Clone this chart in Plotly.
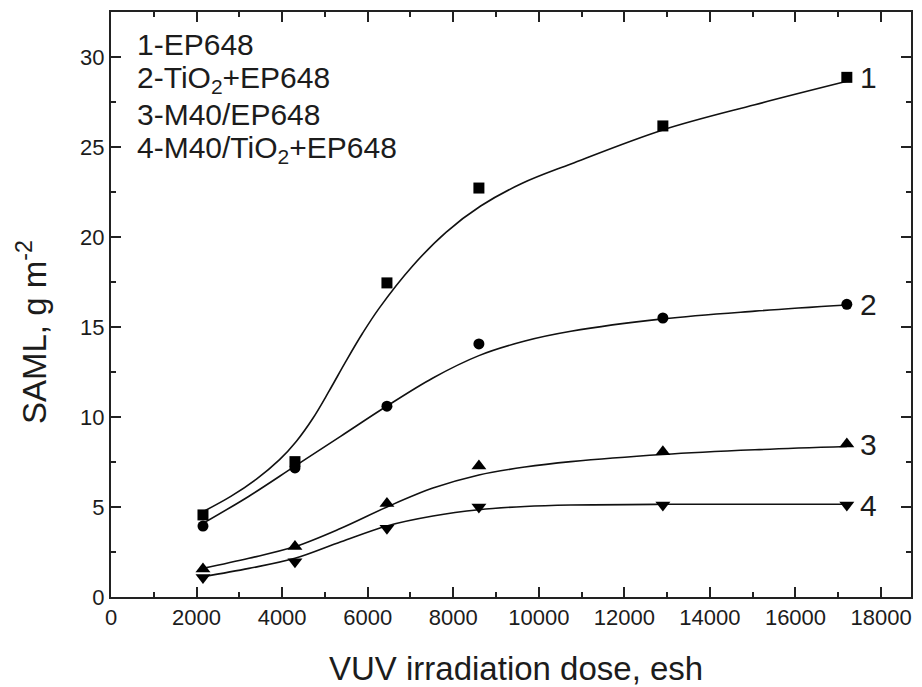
import plotly.graph_objects as go

# Measured data (dose in esh, SAML in g m^-2)
dose = [2150, 4300, 6450, 8600, 12900, 17200]
s1 = [4.56, 7.52, 17.45, 22.72, 26.17, 28.87]   # 1-EP648 (squares)
s2 = [3.94, 7.17, 10.60, 14.06, 15.50, 16.26]   # 2-TiO2+EP648 (circles)
s3 = [1.55, 2.80, 5.20, 7.28, 8.07, 8.50]       # 3-M40/EP648 (triangle-up)
s4 = [1.08, 1.96, 3.82, 5.00, 5.11, 5.11]       # 4-M40/TiO2+EP648 (triangle-down)

# Fitted curves
fit1_x = [2150, 2800, 3400, 3940, 4330, 4720, 5100, 5490, 5880, 6270, 7050, 7830, 8640, 9600, 10750, 12900, 15050, 17200]
fit1 = [4.74, 5.59, 6.55, 7.63, 8.64, 9.93, 11.45, 13.09, 14.65, 16.05, 18.39, 20.26, 21.72, 22.97, 24.06, 25.95, 27.35, 28.65]
fit_x = [2150, 3225, 4300, 5375, 6450, 7525, 8600, 9675, 10750, 12900, 15050, 17200]
fit2 = [4.09, 5.60, 7.27, 8.94, 10.61, 12.17, 13.41, 14.22, 14.76, 15.45, 15.88, 16.22]
fit3 = [1.59, 2.15, 2.80, 3.82, 5.00, 6.05, 6.78, 7.22, 7.52, 7.92, 8.18, 8.36]
fit4 = [1.13, 1.59, 2.15, 3.07, 3.95, 4.50, 4.85, 5.03, 5.11, 5.15, 5.15, 5.15]

legend_lines = ["1-EP648", "2-TiO<sub>2</sub>+EP648", "3-M40/EP648", "4-M40/TiO<sub>2</sub>+EP648"]
curve_labels = ["1", "2", "3", "4"]

x_ticks = list(range(0, 18001, 2000))
x_ticktext = [str(v) for v in x_ticks]
y_ticks = [0, 5, 10, 15, 20, 25, 30]

FONT = "Liberation Sans, Arial, sans-serif"
TXT = "#1c1c1c"

fig = go.Figure()
for fx, fy in [(fit1_x, fit1), (fit_x, fit2), (fit_x, fit3), (fit_x, fit4)]:
    fig.add_trace(go.Scatter(x=fx, y=fy, mode="lines",
                             line=dict(color="#111", width=1.6, shape="spline", smoothing=1.0),
                             showlegend=False, hoverinfo="skip"))

markers = [("square", 11), ("circle", 11), ("triangle-up", 13), ("triangle-down", 13)]
for sy, (sym, sz) in zip([s1, s2, s3, s4], markers):
    fig.add_trace(go.Scatter(x=dose, y=sy, mode="markers",
                             marker=dict(symbol=sym, size=sz, color="black"),
                             showlegend=False))

ann = []
for i, t in enumerate(legend_lines):
    ann.append(dict(xref="paper", yref="paper", x=0.03, y=0.944 - i * 0.0598,
                    text=t, showarrow=False, xanchor="left", yanchor="middle",
                    font=dict(family=FONT, size=30, color=TXT)))
for lab, sy in zip(curve_labels, [s1, s2, s3, s4]):
    ann.append(dict(xref="x", yref="y", x=dose[-1], y=sy[-1], text=lab,
                    showarrow=False, xanchor="left", yanchor="middle", xshift=11,
                    font=dict(family=FONT, size=30, color=TXT)))
# axis titles
ann.append(dict(xref="paper", yref="paper", x=0.506, y=0, yshift=-71,
                text="VUV irradiation dose, esh", showarrow=False,
                xanchor="center", yanchor="middle",
                font=dict(family=FONT, size=33, color=TXT)))
ann.append(dict(xref="paper", yref="paper", x=0, xshift=-79, y=0.453,
                text="SAML, g m<sup>-2</sup>", showarrow=False, textangle=-90,
                xanchor="center", yanchor="middle",
                font=dict(family=FONT, size=33, color=TXT)))

axis_common = dict(showline=True, linecolor="#222", linewidth=2, mirror="ticks",
                   ticks="inside", ticklen=10, tickwidth=1.5, tickcolor="#222",
                   showgrid=False, zeroline=False,
                   tickfont=dict(family=FONT, size=22, color=TXT))

fig.update_layout(
    width=922, height=687,
    margin=dict(l=111, r=9, t=12, b=90),
    paper_bgcolor="white", plot_bgcolor="white",
    xaxis=dict(range=[0, 18700], tickvals=x_ticks, ticktext=x_ticktext,
               minor=dict(dtick=1000, tick0=0, ticks="inside", ticklen=5, tickwidth=1.5, tickcolor="#222"),
               **axis_common),
    yaxis=dict(range=[0, 32.5], tickvals=y_ticks,
               minor=dict(dtick=2.5, tick0=0, ticks="inside", ticklen=5, tickwidth=1.5, tickcolor="#222"),
               **axis_common),
    annotations=ann,
)

fig.write_html("out.html")
